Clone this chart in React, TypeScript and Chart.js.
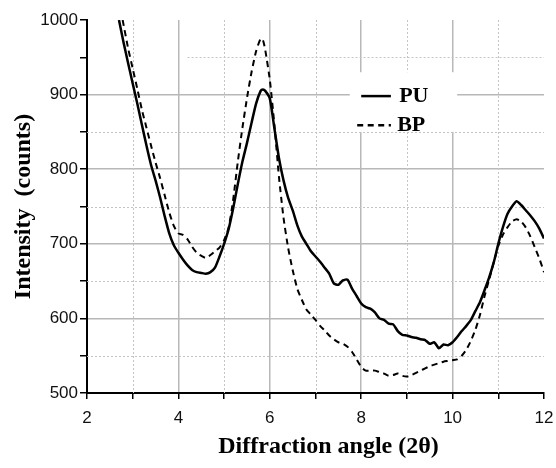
import React, { useEffect, useRef } from "react";
import { Chart, registerables } from "chart.js";

Chart.register(...registerables);

const puX = [2.7, 2.8, 2.9, 3.0, 3.1, 3.2, 3.3, 3.4, 3.5, 3.6, 3.7, 3.8, 3.9, 4.0, 4.1, 4.2, 4.3, 4.4, 4.5, 4.6, 4.7, 4.8, 4.9, 5.0, 5.1, 5.2, 5.3, 5.4, 5.5, 5.6, 5.7, 5.8, 5.85, 5.9, 6.0, 6.1, 6.2, 6.3, 6.4, 6.5, 6.6, 6.7, 6.8, 6.9, 7.0, 7.1, 7.2, 7.3, 7.4, 7.5, 7.6, 7.7, 7.8, 7.9, 8.0, 8.1, 8.2, 8.3, 8.4, 8.5, 8.6, 8.7, 8.8, 8.9, 9.0, 9.1, 9.2, 9.3, 9.4, 9.5, 9.6, 9.7, 9.8, 9.9, 10.0, 10.1, 10.2, 10.3, 10.4, 10.5, 10.6, 10.7, 10.8, 10.9, 11.0, 11.1, 11.2, 11.3, 11.4, 11.5, 11.6, 11.7, 11.8, 11.9, 12.0];
const puY = [1000, 970, 942, 915, 888, 860, 832, 806, 785, 762, 737, 714, 698, 688, 679, 671, 665, 662, 661, 660, 662, 668, 683, 700, 720, 748, 780, 810, 835, 862, 888, 905, 907, 905, 895, 855, 815, 785, 762, 745, 725, 710, 700, 690, 683, 676, 668, 660, 647, 645, 651, 652, 640, 630, 620, 615, 613, 608, 600, 598, 593, 592, 583, 578, 577, 575, 574, 572, 571, 566, 568, 560, 565, 564, 568, 575, 583, 590, 598, 610, 622, 638, 655, 675, 700, 722, 740, 750, 757, 752, 745, 738, 730, 720, 707];

const bpX = [2.78, 2.9, 3.0, 3.1, 3.2, 3.3, 3.4, 3.5, 3.6, 3.7, 3.8, 3.9, 4.0, 4.1, 4.2, 4.3, 4.4, 4.5, 4.6, 4.7, 4.8, 4.9, 5.0, 5.1, 5.2, 5.3, 5.4, 5.5, 5.6, 5.7, 5.8, 5.85, 5.9, 6.0, 6.1, 6.2, 6.3, 6.4, 6.5, 6.6, 6.7, 6.8, 6.9, 7.0, 7.1, 7.2, 7.3, 7.4, 7.5, 7.6, 7.7, 7.8, 7.9, 8.0, 8.1, 8.2, 8.3, 8.4, 8.5, 8.6, 8.7, 8.8, 8.9, 9.0, 9.1, 9.2, 9.3, 9.4, 9.5, 9.6, 9.7, 9.8, 9.9, 10.0, 10.1, 10.2, 10.3, 10.4, 10.5, 10.6, 10.7, 10.8, 10.9, 11.0, 11.1, 11.2, 11.3, 11.4, 11.5, 11.6, 11.7, 11.8, 11.9, 12.0];
const bpY = [1000, 962, 935, 908, 880, 856, 832, 809, 788, 765, 742, 724, 714, 712, 706, 696, 688, 684, 681, 685, 690, 695, 705, 722, 760, 810, 855, 895, 930, 958, 975, 973, 960, 920, 860, 790, 735, 695, 665, 640, 625, 612, 605, 598, 590, 584, 577, 572, 568, 566, 562, 555, 545, 535, 530, 530, 530, 528, 526, 523, 524, 526, 523, 522, 524, 527, 530, 533, 536, 538, 540, 542, 543, 544, 545, 550, 558, 570, 585, 605, 630, 652, 675, 697, 712, 722, 730, 733, 730, 722, 710, 695, 680, 662];

const xMajorTicks = [2, 4, 6, 8, 10, 12];
const yMajorTicks = [500, 600, 700, 800, 900, 1000];
const xMinorGrid = [3, 5, 7, 9, 11];
const yMinorGrid = [550, 650, 750, 850];
const seriesNames = ["PU", "BP"];
const xTitle = "Diffraction angle (2\u03b8)";
const yTitle = "Intensity  (counts)";

const SERIF = "'Liberation Serif', 'Times New Roman', serif";
const SANS = "'Liberation Sans', Arial, sans-serif";

const decorPlugin = {
  id: "decor",
  beforeDatasetsDraw(chart: any) {
    const { ctx, chartArea, scales } = chart;
    const xs = scales.x;
    const ys = scales.y;
    ctx.save();
    ctx.strokeStyle = "#c4c4c4";
    ctx.lineWidth = 1;
    ctx.setLineDash([2, 2]);
    for (const v of xMinorGrid) {
      const px = Math.round(xs.getPixelForValue(v)) + 0.5;
      ctx.beginPath();
      ctx.moveTo(px, chartArea.top);
      ctx.lineTo(px, chartArea.bottom);
      ctx.stroke();
    }
    for (const v of yMinorGrid) {
      const py = Math.round(ys.getPixelForValue(v)) + 0.5;
      ctx.beginPath();
      ctx.moveTo(chartArea.left, py);
      ctx.lineTo(chartArea.right, py);
      ctx.stroke();
    }
    // partial 950 line
    const p950 = Math.round(ys.getPixelForValue(950)) + 0.5;
    ctx.beginPath();
    ctx.moveTo(xs.getPixelForValue(4.2), p950);
    ctx.lineTo(chartArea.right, p950);
    ctx.stroke();
    ctx.setLineDash([]);
    // legend box (white background)
    const bx = xs.getPixelForValue(7.75);
    const bx2 = xs.getPixelForValue(10.1);
    const by = ys.getPixelForValue(930);
    const by2 = ys.getPixelForValue(850);
    ctx.fillStyle = "#fff";
    ctx.fillRect(bx, by, bx2 - bx, by2 - by);
    ctx.restore();
  },
  afterDatasetsDraw(chart: any) {
    const { ctx, scales } = chart;
    const xs = scales.x;
    const ys = scales.y;
    ctx.save();
    const lx1 = xs.getPixelForValue(8.0);
    const lx2 = xs.getPixelForValue(8.65);
    const textX = xs.getPixelForValue(8.83);
    const y1 = ys.getPixelForValue(898);
    const y2 = ys.getPixelForValue(859);
    ctx.strokeStyle = "#000";
    ctx.lineWidth = 2.5;
    ctx.beginPath();
    ctx.moveTo(lx1, y1);
    ctx.lineTo(lx2, y1);
    ctx.stroke();
    ctx.setLineDash([6, 4.5]);
    ctx.beginPath();
    ctx.moveTo(lx1 - 4, y2);
    ctx.lineTo(lx2, y2);
    ctx.stroke();
    ctx.setLineDash([]);
    ctx.fillStyle = "#000";
    ctx.font = `bold 22px ${SERIF}`;
    ctx.textAlign = "left";
    ctx.textBaseline = "middle";
    ctx.fillText(seriesNames[0], textX, y1);
    ctx.fillText(seriesNames[1], textX - 2, y2);
    ctx.restore();
  },
  afterDraw(chart: any) {
    const { ctx, chartArea } = chart;
    ctx.save();
    ctx.fillStyle = "#000";
    ctx.font = `bold 24px ${SERIF}`;
    ctx.textAlign = "center";
    ctx.textBaseline = "alphabetic";
    ctx.fillText(xTitle, (chartArea.left + chartArea.right) / 2 + 13, 453);
    ctx.translate(24, (chartArea.top + chartArea.bottom) / 2);
    ctx.rotate(-Math.PI / 2);
    ctx.textBaseline = "middle";
    ctx.fillText(yTitle, 0, 0);
    ctx.restore();
  },
};

export default function App() {
  const ref = useRef<HTMLCanvasElement>(null);
  useEffect(() => {
    document.body.style.margin = "0";
    const canvas = ref.current!;
    const chart = new Chart(canvas, {
      type: "line",
      data: {
        datasets: [
          {
            label: seriesNames[0],
            data: puX.map((x, i) => ({ x, y: puY[i] })),
            borderColor: "#000",
            borderWidth: 2.5,
            pointRadius: 0,
            tension: 0.2,
            fill: false,
          },
          {
            label: seriesNames[1],
            data: bpX.map((x, i) => ({ x, y: bpY[i] })),
            borderColor: "#000",
            borderWidth: 2,
            borderDash: [6, 4.5],
            pointRadius: 0,
            tension: 0.2,
            fill: false,
          },
        ],
      },
      options: {
        responsive: false,
        maintainAspectRatio: false,
        animation: false,
        layout: { padding: { left: 0, right: 12, top: 20, bottom: 0 } },
        plugins: { legend: { display: false }, tooltip: { enabled: false }, title: { display: false } },
        scales: {
          x: {
            type: "linear",
            min: 2,
            max: 12,
            afterFit: (s: any) => {
              s.height = 75;
              s.paddingLeft = 0;
              s.paddingRight = 0;
            },
            ticks: {
              stepSize: 1,
              autoSkip: false,
              maxRotation: 0,
              padding: 9,
              color: "#111",
              font: { family: SANS, size: 17 },
              callback: (v: any) => (xMajorTicks.includes(Number(v)) ? String(v) : ""),
            },
            grid: {
              color: (c: any) => {
                const v = c.tick ? c.tick.value : null;
                return v !== null && xMajorTicks.includes(v) && v !== 12 && v !== 2 ? "#b8b8b8" : "rgba(0,0,0,0)";
              },
              lineWidth: 1.5,
              drawTicks: true,
              tickLength: 6,
              tickColor: "#000",
              tickWidth: 1.5,
            },
            border: { display: true, color: "#000", width: 2 },
          },
          y: {
            type: "linear",
            min: 500,
            max: 1000,
            afterFit: (s: any) => {
              s.width = 87;
              s.paddingTop = 0;
              s.paddingBottom = 0;
            },
            ticks: {
              stepSize: 50,
              autoSkip: false,
              padding: 2,
              color: "#111",
              font: { family: SANS, size: 17 },
              callback: (v: any) => (yMajorTicks.includes(Number(v)) ? String(v) : ""),
            },
            grid: {
              color: (c: any) => {
                const v = c.tick ? c.tick.value : null;
                return v !== null && yMajorTicks.includes(v) && v !== 500 && v !== 1000 ? "#b8b8b8" : "rgba(0,0,0,0)";
              },
              lineWidth: 1.5,
              drawTicks: true,
              tickLength: 7,
              tickColor: "#000",
              tickWidth: 1.5,
            },
            border: { display: true, color: "#000", width: 2 },
          },
        },
      },
      plugins: [decorPlugin],
    } as any);
    return () => chart.destroy();
  }, []);
  return (
    <div style={{ position: "fixed", left: 0, top: 0, width: 556, height: 468, background: "#fff" }}>
      <canvas ref={ref} width={556} height={468} />
    </div>
  );
}
